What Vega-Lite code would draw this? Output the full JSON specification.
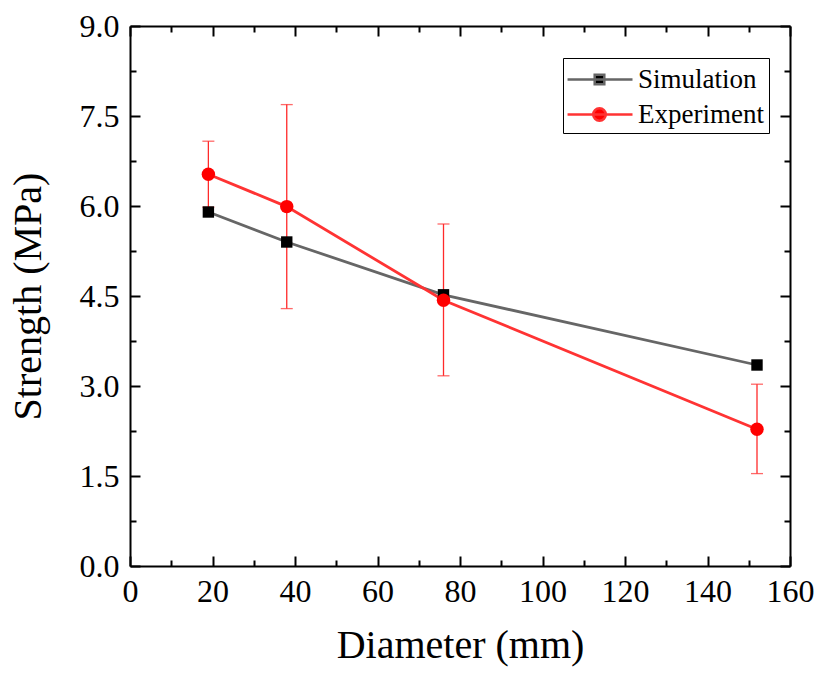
{
  "$schema": "https://vega.github.io/schema/vega-lite/v6.json",
  "autosize": "none",
  "width": 660,
  "height": 540,
  "padding": {"left": 130, "top": 26, "right": 28, "bottom": 107},
  "background": "white",
  "config": {
    "view": {"stroke": null},
    "font": "Liberation Serif",
    "axis": {
      "labelFont": "Liberation Serif",
      "titleFont": "Liberation Serif",
      "labelColor": "black",
      "titleColor": "black",
      "titleFontWeight": "normal",
      "domainColor": "black",
      "domainWidth": 2,
      "tickColor": "black",
      "tickWidth": 2,
      "grid": false
    },
    "legend": {"labelFont": "Liberation Serif", "symbolFillColor": "#000000", "symbolOpacity": 1}
  },
  "data": {
    "values": [
      {"Diameter": 19, "Series": "Simulation", "Strength": 5.9},
      {"Diameter": 38, "Series": "Simulation", "Strength": 5.4},
      {"Diameter": 76, "Series": "Simulation", "Strength": 4.52},
      {"Diameter": 152, "Series": "Simulation", "Strength": 3.35},
      {"Diameter": 19, "Series": "Experiment", "Strength": 6.53, "lo": 5.98, "hi": 7.08},
      {"Diameter": 38, "Series": "Experiment", "Strength": 5.99, "lo": 4.29, "hi": 7.69},
      {"Diameter": 76, "Series": "Experiment", "Strength": 4.43, "lo": 3.17, "hi": 5.7},
      {"Diameter": 152, "Series": "Experiment", "Strength": 2.28, "lo": 1.54, "hi": 3.03}
    ]
  },
  "layer": [
    {
      "layer": [
        {
          "transform": [{"filter": "datum.Series === 'Experiment'"}],
          "mark": {"type": "errorbar", "ticks": {"size": 12}, "color": "#ff2a2a", "thickness": 1.3},
          "encoding": {
            "x": {"field": "Diameter", "type": "quantitative", "title": "Diameter (mm)"},
            "y": {"field": "lo", "type": "quantitative", "title": "Strength (MPa)"},
            "y2": {"field": "hi"}
          }
        },
        {
          "transform": [{"filter": "datum.Series === 'Simulation'"}],
          "mark": {"type": "line", "strokeWidth": 2.8, "color": "#666666"},
          "encoding": {
            "x": {
              "field": "Diameter", "type": "quantitative",
              "title": "Diameter (mm)",
              "scale": {"domain": [0, 160], "nice": false, "zero": false},
              "axis": {
                "orient": "bottom",
                "titleFontSize": 40,
                "titlePadding": 14,
                "values": [0,10,20,30,40,50,60,70,80,90,100,110,120,130,140,150,160],
                "labelExpr": "datum.value % 20 === 0 ? datum.label : ''",
                "labelFontSize": 32,
                "labelPadding": 20,
                "labelFlush": false,
                "labelOverlap": false,
                "tickSize": {"condition": {"test": "datum.value % 20 === 0", "value": -10}, "value": -6}
              }
            },
            "y": {
              "field": "Strength", "type": "quantitative",
              "title": "Strength (MPa)",
              "scale": {"domain": [0, 9], "nice": false},
              "axis": {
                "orient": "left",
                "titleFontSize": 40,
                "titlePadding": 31,
                "values": [0,0.75,1.5,2.25,3,3.75,4.5,5.25,6,6.75,7.5,8.25,9],
                "format": ".1f",
                "labelExpr": "datum.value % 1.5 === 0 ? datum.label : ''",
                "labelFontSize": 32,
                "labelPadding": 21,
                "labelFlush": false,
                "labelOverlap": false,
                "tickSize": {"condition": {"test": "datum.value % 1.5 === 0", "value": -10}, "value": -6}
              }
            }
          }
        },
        {
          "transform": [{"filter": "datum.Series === 'Experiment'"}],
          "mark": {"type": "line", "strokeWidth": 2.8, "color": "#ff3333"},
          "encoding": {
            "x": {"field": "Diameter", "type": "quantitative", "title": "Diameter (mm)"},
            "y": {"field": "Strength", "type": "quantitative", "title": "Strength (MPa)"}
          }
        }
      ]
    },
    {
      "layer": [
        {
          "mark": {"type": "point", "filled": true, "opacity": 0, "strokeWidth": 2.5},
          "encoding": {
            "x": {
              "field": "Diameter", "type": "quantitative", "title": null,
              "axis": {
                "orient": "top", "labels": false,
                "values": [0,10,20,30,40,50,60,70,80,90,100,110,120,130,140,150,160],
                "tickSize": {"condition": {"test": "datum.value % 20 === 0", "value": -10}, "value": -6}
              }
            },
            "y": {
              "field": "Strength", "type": "quantitative", "title": null,
              "axis": {
                "orient": "right", "labels": false,
                "values": [0,0.75,1.5,2.25,3,3.75,4.5,5.25,6,6.75,7.5,8.25,9],
                "tickSize": {"condition": {"test": "datum.value % 1.5 === 0", "value": -10}, "value": -6}
              }
            },
            "fill": {
              "field": "Series", "type": "nominal",
              "scale": {"domain": ["Simulation", "Experiment"], "range": ["#000000", "#ff0000"]},
              "legend": {
                "title": null,
                "orient": "none",
                "legendX": 433,
                "legendY": 32,
                "strokeColor": "black",
                "fillColor": "white",
                "padding": 5,
                "symbolSize": 900,
                "symbolStrokeWidth": 2.5,
                "labelFontSize": 27,
                "labelOffset": 37,
                "rowPadding": 5,
                "labelColor": "black"
              }
            },
            "stroke": {
              "field": "Series", "type": "nominal",
              "scale": {"domain": ["Simulation", "Experiment"], "range": ["#666666", "#ff3333"]}
            },
            "shape": {
              "field": "Series", "type": "nominal",
              "scale": {
                "domain": ["Simulation", "Experiment"],
                "range": [
                  "M-1.13,0H3.2M0.68,-0.32H1.32V0.32H0.68Z",
                  "M-1.13,0H3.2M1.42,0A0.42,0.42,0,1,1,0.58,0A0.42,0.42,0,1,1,1.42,0Z"
                ]
              }
            }
          }
        },
        {
          "transform": [{"filter": "datum.Series === 'Simulation'"}],
          "mark": {"type": "point", "filled": true, "opacity": 1, "shape": "square", "size": 130, "color": "#000000"},
          "encoding": {
            "x": {"field": "Diameter", "type": "quantitative", "title": null},
            "y": {"field": "Strength", "type": "quantitative", "title": null}
          }
        },
        {
          "transform": [{"filter": "datum.Series === 'Experiment'"}],
          "mark": {"type": "point", "filled": true, "opacity": 1, "shape": "circle", "size": 180, "color": "#ff0000"},
          "encoding": {
            "x": {"field": "Diameter", "type": "quantitative", "title": null},
            "y": {"field": "Strength", "type": "quantitative", "title": null}
          }
        }
      ]
    }
  ],
  "resolve": {"axis": {"x": "independent", "y": "independent"}}
}
